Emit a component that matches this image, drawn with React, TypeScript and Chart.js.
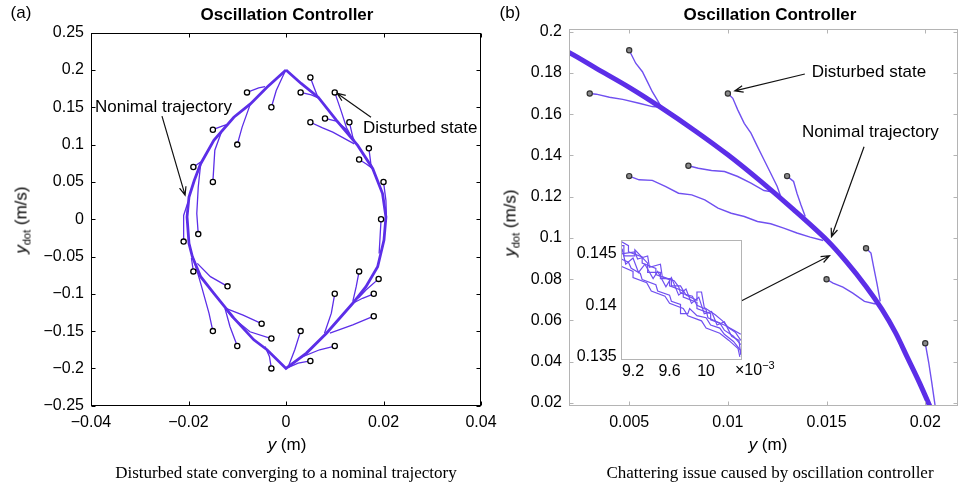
import React, { useEffect, useRef } from 'react';
import { Chart, registerables } from 'chart.js';

Chart.register(...registerables);

const PURPLE = 'rgb(92,46,232)';
const PURPLE_B = 'rgb(112,80,240)';
const SANS = '"Liberation Sans", Arial, Helvetica, sans-serif';
const SERIF = '"Liberation Serif", "Times New Roman", serif';

// ---------- Panel (a) ----------
const xTicksA = [-0.04, -0.02, 0, 0.02, 0.04];
const xLabelsA = ['−0.04', '−0.02', '0', '0.02', '0.04'];
const yTicksA = [0.25, 0.2, 0.15, 0.1, 0.05, 0, -0.05, -0.1, -0.15, -0.2, -0.25];
const yLabelsA = ['0.25', '0.2', '0.15', '0.1', '0.05', '0', '−0.05', '−0.1', '−0.15', '−0.2', '−0.25'];

const nominalAX = [0, 0.0031, 0.0066, 0.0104, 0.0147, 0.0178, 0.0198, 0.0205, 0.0201, 0.0188, 0.0164, 0.0137, 0.0083, 0.0042, 0,
  -0.0039, -0.0066, -0.0107, -0.0148, -0.0175, -0.0192, -0.0199, -0.0203, -0.0199, -0.0188, -0.0175, -0.0148, -0.0107, -0.0073, -0.0039, 0];
const nominalAY = [0.2, 0.182, 0.1635, 0.132, 0.0989, 0.0677, 0.0343, 0.003, -0.028, -0.0637, -0.0904, -0.1127, -0.1528, -0.1795, -0.2,
  -0.175, -0.1617, -0.1327, -0.0993, -0.0771, -0.0503, -0.0325, 0.003, 0.0298, 0.0521, 0.0744, 0.1056, 0.1367, 0.1546, 0.1768, 0.2];

const disturbedA: number[][][] = [
  [[0.005, 0.19], [0.0058, 0.176], [0.0066, 0.1626]],
  [[0.003, 0.17], [0.0052, 0.1665], [0.0066, 0.1626]],
  [[0.01, 0.17], [0.0113, 0.1452], [0.0124, 0.1229], [0.0137, 0.107]],
  [[-0.003, 0.15], [-0.002, 0.1724], [-0.0002, 0.198]],
  [[-0.008, 0.17], [-0.0056, 0.176], [-0.0043, 0.1777]],
  [[0.008, 0.135], [0.0103, 0.1314], [0.0123, 0.121], [0.0137, 0.107]],
  [[0.005, 0.13], [0.0075, 0.1225], [0.0096, 0.1167], [0.014, 0.101]],
  [[0.013, 0.13], [0.0137, 0.11], [0.0143, 0.1015]],
  [[-0.015, 0.12], [-0.0131, 0.1247], [-0.0117, 0.1278]],
  [[-0.01, 0.1], [-0.009, 0.1234], [-0.0073, 0.1546]],
  [[0.017, 0.095], [0.0174, 0.0744], [0.0179, 0.0655]],
  [[0.015, 0.08], [0.0164, 0.0744], [0.0178, 0.0677]],
  [[-0.019, 0.07], [-0.0175, 0.0766]],
  [[-0.015, 0.05], [-0.0146, 0.0925], [-0.0133, 0.116]],
  [[0.02, 0.05], [0.0205, 0.025], [0.0206, 0.003]],
  [[0.0195, 0], [0.0193, -0.0236], [0.0191, -0.0459]],
  [[-0.018, -0.02], [-0.0183, 0.0076], [-0.018, 0.0432], [-0.0175, 0.0744]],
  [[-0.021, -0.03], [-0.021, 0.005], [-0.0202, 0.021]],
  [[-0.019, -0.07], [-0.0194, -0.052]],
  [[-0.012, -0.09], [-0.0155, -0.077], [-0.0182, -0.0592]],
  [[0.015, -0.07], [0.0144, -0.0904], [0.0137, -0.1105]],
  [[0.019, -0.08], [0.0164, -0.095], [0.0148, -0.106]],
  [[0.01, -0.1], [0.0093, -0.126], [0.0079, -0.1528]],
  [[0.018, -0.1], [0.0157, -0.106], [0.0137, -0.1127]],
  [[-0.015, -0.15], [-0.0158, -0.126], [-0.0175, -0.086], [-0.019, -0.0526]],
  [[-0.005, -0.14], [-0.0088, -0.1287], [-0.0122, -0.1198]],
  [[-0.003, -0.16], [-0.0074, -0.1509], [-0.0111, -0.131], [-0.0125, -0.1198]],
  [[-0.01, -0.17], [-0.0115, -0.1438], [-0.0125, -0.1198]],
  [[0.003, -0.15], [0.0018, -0.175], [0.0005, -0.197]],
  [[0.018, -0.13], [0.0137, -0.1417], [0.009, -0.1528]],
  [[0.01, -0.17], [0.0069, -0.175], [0.0028, -0.186]],
  [[0.005, -0.19], [0.0025, -0.193], [0.0005, -0.1987]],
  [[-0.003, -0.2], [-0.0034, -0.184], [-0.0043, -0.1706]],
];

const notesA = [
  { text: 'Nonimal trajectory', x: -0.0392, y: 0.15 },
  { text: 'Disturbed state', x: 0.0158, y: 0.122 },
];
const arrowsA = [
  { x0: -0.02544, y0: 0.1381, x1: -0.0207, y1: 0.0322 },
  { x0: 0.01744, y0: 0.1367, x1: 0.01046, y1: 0.1689 },
];

// ---------- Panel (b) ----------
const xTicksB = [0.005, 0.01, 0.015, 0.02];
const xLabelsB = ['0.005', '0.01', '0.015', '0.02'];
const yTicksB = [0.2, 0.18, 0.16, 0.14, 0.12, 0.1, 0.08, 0.06, 0.04, 0.02];
const yLabelsB = ['0.2', '0.18', '0.16', '0.14', '0.12', '0.1', '0.08', '0.06', '0.04', '0.02'];

const nominalBX = [0.001, 0.00197, 0.00333, 0.005, 0.00658, 0.00833, 0.01, 0.01167, 0.01333, 0.015, 0.016, 0.017, 0.0178, 0.0185, 0.0191, 0.0197, 0.0203, 0.0207];
const nominalBY = [0.194, 0.1898, 0.1822, 0.173, 0.1634, 0.152, 0.1403, 0.1274, 0.1137, 0.0991, 0.0885, 0.0765, 0.0655, 0.054, 0.042, 0.03, 0.017, 0.008];

const disturbedB: number[][][] = [
  [[0.005, 0.191], [0.00533, 0.1847], [0.00567, 0.1806], [0.00592, 0.1758], [0.00617, 0.1709], [0.00642, 0.1669], [0.00663, 0.1634]],
  [[0.003, 0.17], [0.00333, 0.1697], [0.004, 0.1682], [0.00467, 0.1672], [0.0055, 0.1653], [0.00617, 0.1637], [0.00663, 0.1634]],
  [[0.01, 0.17], [0.01025, 0.1677], [0.0105, 0.1621], [0.01083, 0.1556], [0.01117, 0.1508], [0.0115, 0.1443], [0.01183, 0.1379], [0.01217, 0.1314], [0.0125, 0.125], [0.0127, 0.1195]],
  [[0.008, 0.135], [0.0085, 0.1338], [0.00917, 0.1327], [0.00983, 0.1322], [0.0105, 0.1298], [0.01117, 0.1266], [0.01183, 0.123], [0.0123, 0.1222]],
  [[0.005, 0.13], [0.0055, 0.1282], [0.00617, 0.1279], [0.00683, 0.125], [0.0075, 0.1217], [0.00817, 0.1209], [0.00883, 0.1185], [0.0095, 0.1145], [0.01017, 0.112], [0.01083, 0.1104], [0.0115, 0.108], [0.01217, 0.1069], [0.01283, 0.1048], [0.0135, 0.1024], [0.01417, 0.1004], [0.01483, 0.0988]],
  [[0.013, 0.13], [0.01333, 0.1274], [0.0135, 0.1217], [0.0137, 0.1161], [0.01392, 0.1104]],
  [[0.017, 0.095], [0.01725, 0.0927], [0.01738, 0.0862], [0.01755, 0.0781], [0.01772, 0.0693]],
  [[0.015, 0.08], [0.01533, 0.0781], [0.01583, 0.0762], [0.01633, 0.0733], [0.01692, 0.0693], [0.01742, 0.0681], [0.01772, 0.0681]],
  [[0.02, 0.049], [0.02017, 0.04], [0.02033, 0.03], [0.0205, 0.0187], [0.0206, 0.012]],
];

const notesB = [
  { text: 'Disturbed state', x: 0.01425, y: 0.1805 },
  { text: 'Nonimal trajectory', x: 0.01375, y: 0.1514 },
];
const arrowsB = [
  { x0: 0.0139, y0: 0.1795, x1: 0.01035, y1: 0.1713 },
  { x0: 0.0169, y0: 0.1442, x1: 0.01525, y1: 0.1006 },
  { x0: 0.0106, y0: 0.0691, x1: 0.01515, y1: 0.0914 },
];

// ---------- Inset (x in 1e-3 m) ----------
const xTicksI = [9.2, 9.6, 10];
const xLabelsI = ['9.2', '9.6', '10'];
const yTicksI = [0.135, 0.14, 0.145];
const yLabelsI = ['0.135', '0.14', '0.145'];

const insetS1X = [9.07, 9.15, 9.15, 9.3, 9.3, 9.45, 9.45, 9.6, 9.6, 9.75, 9.75, 9.9, 9.9, 10.05, 10.05, 10.2, 10.3, 10.38];
const insetS1Y = [0.1462, 0.1458, 0.1452, 0.1447, 0.1441, 0.1436, 0.143, 0.1425, 0.1419, 0.1414, 0.1408, 0.1403, 0.1397, 0.1392, 0.1386, 0.1381, 0.1376, 0.1372];
const insetS2X = [9.07, 9.2, 9.2, 9.35, 9.4, 9.55, 9.6, 9.75, 9.8, 9.95, 10.0, 10.15, 10.25, 10.35, 10.37];
const insetS2Y = [0.1438, 0.1433, 0.1427, 0.1422, 0.1414, 0.1409, 0.1402, 0.1397, 0.139, 0.1385, 0.1378, 0.1373, 0.1366, 0.1358, 0.135];
const insetS3X = [9.07, 9.22, 9.25, 9.36, 9.38, 9.5, 9.52, 9.65, 9.7, 9.72, 9.85, 9.9, 10.0, 10.02, 10.15, 10.2, 10.3, 10.38];
const insetS3Y = [0.145, 0.1452, 0.1445, 0.1448, 0.1437, 0.144, 0.1428, 0.1424, 0.1418, 0.1412, 0.1409, 0.14, 0.1396, 0.1388, 0.1383, 0.1376, 0.137, 0.1362];
const insetS4X = [9.08, 9.12, 9.2, 9.26, 9.33, 9.42, 9.47, 9.56, 9.62, 9.7, 9.78, 9.84, 9.92, 9.98, 10.06, 10.12, 10.2, 10.28, 10.36, 10.38];
const insetS4Y = [0.1455, 0.144, 0.1446, 0.1432, 0.144, 0.1426, 0.1433, 0.1418, 0.1427, 0.141, 0.1416, 0.1402, 0.1408, 0.1392, 0.1394, 0.1381, 0.1384, 0.137, 0.1366, 0.1352];
const insetS5X = [9.07, 9.1, 9.1, 9.22, 9.22, 9.36, 9.36, 9.5, 9.5, 9.62, 9.62, 9.72, 9.78, 9.9, 9.9, 9.95, 9.98, 10.1, 10.18, 10.25, 10.32, 10.38];
const insetS5Y = [0.1458, 0.1458, 0.1448, 0.1448, 0.1454, 0.1441, 0.1432, 0.1432, 0.1426, 0.1426, 0.1419, 0.1419, 0.141, 0.1405, 0.1413, 0.1413, 0.1398, 0.1391, 0.1385, 0.1378, 0.1374, 0.1366];
const insetS6X = [9.07, 9.15, 9.18, 9.28, 9.3, 9.45, 9.47, 9.6, 9.62, 9.72, 9.72, 9.8, 9.82, 9.9, 10.0, 10.05, 10.15, 10.2, 10.3, 10.38];
const insetS6Y = [0.1445, 0.1442, 0.1436, 0.1431, 0.1425, 0.142, 0.1414, 0.141, 0.1404, 0.1401, 0.1392, 0.1392, 0.1397, 0.139, 0.1388, 0.1381, 0.1378, 0.1372, 0.1365, 0.1356];

// ---------- helpers ----------
const pts = (xs: number[], ys: number[]) => xs.map((x, i) => ({ x, y: ys[i] }));
const pairs = (p: number[][]) => p.map(([x, y]) => ({ x, y }));

function axis(ticks: number[], labels: string[], min: number, max: number, size: number, padding: number, horizontal: boolean, fontSize = 16) {
  return {
    type: 'linear',
    position: horizontal ? 'bottom' : 'left',
    min,
    max,
    grid: { display: false, drawTicks: false },
    border: { display: false },
    ticks: {
      padding,
      color: '#000',
      autoSkip: false,
      maxRotation: 0,
      minRotation: 0,
      font: { family: SANS, size: fontSize },
      callback: (v: number) => {
        const i = ticks.findIndex((t) => Math.abs(t - v) < 1e-9);
        return i >= 0 ? labels[i] : '';
      },
    },
    afterBuildTicks: (s: any) => {
      s.ticks = ticks.map((v) => ({ value: v }));
    },
    afterFit: (s: any) => {
      if (horizontal) s.height = size;
      else s.width = size;
    },
  };
}

function framePlugin(color: string, len: number, fillWhite = false) {
  return {
    id: 'frame',
    beforeDatasetsDraw(chart: any) {
      if (!fillWhite) return;
      const { ctx, chartArea: a } = chart;
      ctx.save();
      ctx.fillStyle = '#fff';
      ctx.fillRect(a.left, a.top, a.right - a.left, a.bottom - a.top);
      ctx.restore();
    },
    afterDatasetsDraw(chart: any) {
      const { ctx, chartArea: a, scales } = chart;
      const L = Math.round(a.left) + 0.5, R = Math.round(a.right) - 0.5;
      const T = Math.round(a.top) + 0.5, B = Math.round(a.bottom) - 0.5;
      ctx.save();
      ctx.strokeStyle = color;
      ctx.lineWidth = 1;
      ctx.strokeRect(L, T, R - L, B - T);
      if (len > 0) {
        ctx.beginPath();
        scales.x.ticks.forEach((t: any) => {
          const p = Math.round(scales.x.getPixelForValue(t.value)) + 0.5;
          ctx.moveTo(p, B); ctx.lineTo(p, B - len);
          ctx.moveTo(p, T); ctx.lineTo(p, T + len);
        });
        scales.y.ticks.forEach((t: any) => {
          const p = Math.round(scales.y.getPixelForValue(t.value)) + 0.5;
          ctx.moveTo(L, p); ctx.lineTo(L + len, p);
          ctx.moveTo(R, p); ctx.lineTo(R - len, p);
        });
        ctx.stroke();
      }
      ctx.restore();
    },
  };
}

function notesPlugin(notes: { text: string; x: number; y: number }[], arrows: { x0: number; y0: number; x1: number; y1: number }[]) {
  return {
    id: 'notes',
    afterDraw(chart: any) {
      const { ctx, scales } = chart;
      const sx = scales.x, sy = scales.y;
      ctx.save();
      ctx.fillStyle = '#000';
      ctx.strokeStyle = '#111';
      ctx.lineWidth = 1.2;
      ctx.font = `17px ${SANS}`;
      ctx.textAlign = 'left';
      ctx.textBaseline = 'middle';
      notes.forEach((n) => ctx.fillText(n.text, sx.getPixelForValue(n.x), sy.getPixelForValue(n.y)));
      arrows.forEach((a) => {
        const x0 = sx.getPixelForValue(a.x0), y0 = sy.getPixelForValue(a.y0);
        const x1 = sx.getPixelForValue(a.x1), y1 = sy.getPixelForValue(a.y1);
        ctx.beginPath();
        ctx.moveTo(x0, y0);
        ctx.lineTo(x1, y1);
        const ang = Math.atan2(y1 - y0, x1 - x0);
        const len = 9, w = 0.38;
        ctx.moveTo(x1 - len * Math.cos(ang - w), y1 - len * Math.sin(ang - w));
        ctx.lineTo(x1, y1);
        ctx.lineTo(x1 - len * Math.cos(ang + w), y1 - len * Math.sin(ang + w));
        ctx.stroke();
      });
      ctx.restore();
    },
  };
}

const baseOptions = (padding: any, scales: any) => ({
  responsive: false,
  maintainAspectRatio: false,
  animation: false,
  devicePixelRatio: 1,
  events: [],
  layout: { padding },
  plugins: { legend: { display: false }, tooltip: { enabled: false }, title: { display: false } },
  scales,
  elements: { line: { tension: 0 } },
});

function buildA(canvas: HTMLCanvasElement) {
  const datasets: any[] = [
    {
      data: disturbedA.map((p) => ({ x: p[0][0], y: p[0][1] })),
      showLine: false,
      pointRadius: 2.6,
      pointBackgroundColor: '#fff',
      pointBorderColor: '#000',
      pointBorderWidth: 1.3,
      order: 0,
    },
    { data: pts(nominalAX, nominalAY), showLine: true, borderColor: PURPLE, borderWidth: 2.8, pointRadius: 0, order: 1 },
    ...disturbedA.map((p) => ({ data: pairs(p), showLine: true, borderColor: PURPLE, borderWidth: 1.3, pointRadius: 0, order: 2 })),
  ];
  return new Chart(canvas, {
    type: 'scatter',
    data: { datasets },
    options: baseOptions({ left: 0, top: 32.7, right: 29, bottom: 0 }, {
      x: axis(xTicksA, xLabelsA, -0.04, 0.04, 79.3, 7, true),
      y: axis(yTicksA, yLabelsA, -0.25, 0.25, 91, 7, false),
    }) as any,
    plugins: [framePlugin('#000', 4), notesPlugin(notesA, arrowsA)],
  });
}

function buildB(canvas: HTMLCanvasElement) {
  const datasets: any[] = [
    {
      data: disturbedB.map((p) => ({ x: p[0][0], y: p[0][1] })),
      showLine: false,
      pointRadius: 2.6,
      pointBackgroundColor: '#8a8a8a',
      pointBorderColor: '#333',
      pointBorderWidth: 1.2,
      order: 0,
    },
    { data: pts(nominalBX, nominalBY), showLine: true, borderColor: PURPLE, borderWidth: 5, pointRadius: 0, order: 1, tension: 0.3 },
    ...disturbedB.map((p) => ({ data: pairs(p), showLine: true, borderColor: PURPLE_B, borderWidth: 1.4, pointRadius: 0, order: 2 })),
  ];
  return new Chart(canvas, {
    type: 'scatter',
    data: { datasets },
    options: baseOptions({ left: 0, top: 29, right: 0, bottom: 0 }, {
      x: axis(xTicksB, xLabelsB, 0.00195, 0.02165, 79.3, 7, true),
      y: axis(yTicksB, yLabelsB, 0.0187, 0.2013, 88, 7, false),
    }) as any,
    plugins: [framePlugin('#b4b4b4', 4), notesPlugin(notesB, arrowsB)],
  });
}

function buildInset(canvas: HTMLCanvasElement) {
  const series = [
    pts(insetS1X, insetS1Y),
    pts(insetS2X, insetS2Y),
    pts(insetS3X, insetS3Y),
    pts(insetS4X, insetS4Y),
    pts(insetS5X, insetS5Y),
    pts(insetS6X, insetS6Y),
  ];
  return new Chart(canvas, {
    type: 'scatter',
    data: {
      datasets: series.map((d) => ({ data: d, showLine: true, borderColor: PURPLE_B, borderWidth: 1.2, pointRadius: 0 })),
    },
    options: baseOptions({ left: 0, top: 20, right: 18.3, bottom: 0 }, {
      x: axis(xTicksI, xLabelsI, 9.065, 10.39, 30, 2, true),
      y: axis(yTicksI, yLabelsI, 0.1347, 0.14635, 60.7, 4, false),
    }) as any,
    plugins: [framePlugin('#b4b4b4', 0, true)],
  });
}

function ChartCanvas({ build, left, top, width, height }: any) {
  const ref = useRef<HTMLCanvasElement | null>(null);
  useEffect(() => {
    const c = build(ref.current!);
    return () => c.destroy();
  }, []);
  return (
    <canvas
      ref={ref}
      width={width}
      height={height}
      style={{ position: 'absolute', left, top, width, height }}
    />
  );
}

function Label({ x, y, children, style }: any) {
  return (
    <div
      style={{
        position: 'absolute',
        left: x,
        top: y,
        transform: 'translate(-50%, -50%)',
        whiteSpace: 'nowrap',
        fontFamily: SANS,
        fontSize: 17,
        fontWeight: 'normal',
        color: '#000',
        lineHeight: 1,
        ...style,
      }}
    >
      {children}
    </div>
  );
}

function YTitle({ x, y }: any) {
  return (
    <Label x={x} y={y} style={{ transform: 'translate(-50%, -50%) rotate(-90deg)' }}>
      <i>y</i>
      <span style={{ fontSize: 11, position: 'relative', top: 4 }}>dot</span> (m/s)
    </Label>
  );
}

export default function App() {
  return (
    <div style={{ position: 'absolute', left: 0, top: 0, width: 963, height: 485, background: '#fff', overflow: 'hidden' }}>
      <ChartCanvas build={buildA} left={0} top={0} width={510} height={485} />
      <ChartCanvas build={buildB} left={481} top={0} width={482} height={485} />
      <ChartCanvas build={buildInset} left={560} top={220} width={760 - 560} height={170} />

      <Label x={21} y={12}>(a)</Label>
      <Label x={510} y={12}>(b)</Label>
      <Label x={287} y={14} style={{ fontWeight: 'bold' }}>Oscillation Controller</Label>
      <Label x={770} y={14} style={{ fontWeight: 'bold' }}>Oscillation Controller</Label>

      <Label x={287} y={444}><i>y</i> (m)</Label>
      <Label x={768} y={444}><i>y</i> (m)</Label>
      <YTitle x={21} y={220} />
      <YTitle x={510} y={223} />

      <div style={{ position: 'absolute', left: 735, top: 369, transform: 'translateY(-50%)', fontFamily: SANS, fontSize: 16, lineHeight: 1, whiteSpace: 'nowrap' }}>
        ×10<sup style={{ fontSize: 11 }}>−3</sup>
      </div>

      <Label x={286} y={472} style={{ fontFamily: SERIF, fontSize: 17 }}>Disturbed state converging to a nominal trajectory</Label>
      <Label x={770} y={472} style={{ fontFamily: SERIF, fontSize: 17 }}>Chattering issue caused by oscillation controller</Label>
    </div>
  );
}
